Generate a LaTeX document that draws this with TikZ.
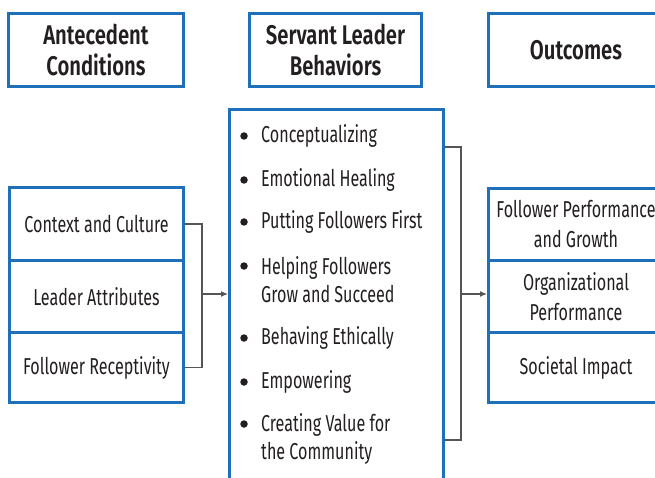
\documentclass[tikz,border=0pt]{standalone}
\usepackage{fontspec}
\setmainfont[FakeStretch=0.70]{Fira Sans}
\newfontfamily\headfont[FakeStretch=0.75]{Fira Sans SemiBold}
\usetikzlibrary{arrows.meta}
\definecolor{boxblue}{RGB}{30,112,186}
\definecolor{txt}{RGB}{35,31,32}
\definecolor{conn}{RGB}{85,85,85}
\begin{document}
\begin{tikzpicture}[x=1pt,y=-1pt,
  box/.style={draw=boxblue,line width=3pt,fill=white,inner sep=0pt,align=center,
    text=txt,font=\fontsize{23}{30}\selectfont,anchor=north west},
  head/.style={box,font=\headfont\fontsize{27}{31}\selectfont},
  item/.style={anchor=west,align=left,inner sep=0pt,text=txt,font=\fontsize{23}{28}\selectfont},
  dot/.style={circle,fill=txt,inner sep=0pt,minimum size=7.5pt},
  conline/.style={draw=conn,line width=1.1pt},
  arr/.style={conline,-{Latex[length=7pt,width=6pt]}}]
\useasboundingbox (0,0) rectangle (655,478);
\clip (0,0) rectangle (655,478);
% headers
\node[head,minimum width=175pt,minimum height=73pt] (ante) at (7,12) {Antecedent\\Conditions};
\node[head,minimum width=172pt,minimum height=73pt] (serv) at (248,12) {Servant Leader\\Behaviors};
\node[head,minimum width=175pt,minimum height=73pt] (outc) at (487,12) {Outcomes};
% left list
\node[box,minimum width=174pt,minimum height=73pt] (ctx) at (8,186) {Context and Culture};
\node[box,minimum width=174pt,minimum height=72pt] (la) at (8,259) {Leader Attributes};
\node[box,minimum width=174pt,minimum height=70pt] (fr) at (8,331) {Follower Receptivity};
% right list
\node[box,minimum width=175pt,minimum height=72pt] (fpg) at (487,187) {Follower Performance\\and Growth};
\node[box,minimum width=175pt,minimum height=72pt] (org) at (487,259) {Organizational\\Performance};
\node[box,minimum width=175pt,minimum height=70pt] (soc) at (487,331) {Societal Impact};
% middle
\node[box,minimum width=214pt,minimum height=400pt] (behav) at (228,108) {};
\node[dot] (b1) at (244,136) {}; \node[item] (i1) at (261,136) {Conceptualizing};
\node[dot] (b2) at (244,180) {}; \node[item] (i2) at (261,180) {Emotional Healing};
\node[dot] (b3) at (244,222) {}; \node[item] (i3) at (261,222) {Putting Followers First};
\node[dot] (b4) at (244,266) {}; \node[item] (i4) at (261,280) {Helping Followers\\Grow and Succeed};
\node[dot] (b5) at (244,338) {}; \node[item] (i5) at (261,338) {Behaving Ethically};
\node[dot] (b6) at (244,382) {}; \node[item] (i6) at (261,382) {Empowering};
\node[dot] (b7) at (244,424) {}; \node[item] (i7) at (261,438.5) {Creating Value for\\the Community};
% connectors left
\coordinate (lj) at (202,294);
\draw[conline] (ctx.east) -| (lj) |- (fr.east);
\draw[arr] (lj) -- (behav.west |- lj);
% connectors right
\coordinate (rt) at (461,147);
\coordinate (rb) at (461,440);
\coordinate (rj) at (461,294);
\draw[conline] (behav.east |- rt) -- (rt) -- (rb) -- (behav.east |- rb);
\draw[arr] (rj) -- (org.west |- rj);
\end{tikzpicture}
\end{document}
